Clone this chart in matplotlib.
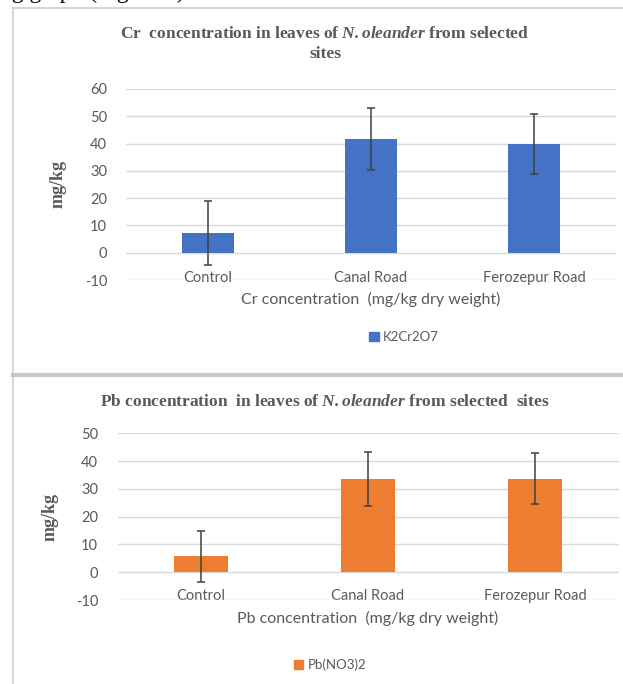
import matplotlib.pyplot as plt
from matplotlib.lines import Line2D
from matplotlib.patches import Patch

plt.rcParams['mathtext.fontset'] = 'custom'
plt.rcParams['mathtext.bfit'] = 'Liberation Serif:italic:bold'
plt.rcParams['mathtext.it'] = 'Liberation Serif:italic'

sites = ['Control', 'Canal Road', 'Ferozepur Road']
cr_mean = [7.3, 41.6, 39.8]
cr_err = [11.8, 11.4, 11.0]
pb_mean = [5.8, 33.6, 33.7]
pb_err = [9.2, 9.6, 9.3]

gray = '#595959'
blue = '#4472C4'
orange = '#ED7D31'
W, H = 623, 684

fig = plt.figure(figsize=(W / 100, H / 100), dpi=100)

# bits of the page around the two chart panels
fig.text(0.0, 1 + 8 / H, 'ng graph (Figure 3)', fontsize=17, family='Liberation Serif',
         va='center', ha='left', color='black')
border = '#cfcfcf'
fig.add_artist(Line2D([13 / W, 13 / W], [0, 1 - 8 / H], color=border, lw=1.2))
fig.add_artist(Line2D([13 / W, 1], [1 - 8 / H, 1 - 8 / H], color=border, lw=1.2))
fig.add_artist(Line2D([13 / W, 1], [1 - 375 / H, 1 - 375 / H], color='#c8c8c8', lw=3))


def panel(rect, means, errs, color, ylim, ticks, title, title_y, title_x,
          xlabel, legend_label, legend_xy, ylabel_x, tick_pad, label_pad):
    ax = fig.add_axes(rect)
    ax.bar(range(len(sites)), means, width=0.32, color=color, zorder=3,
           yerr=errs, error_kw=dict(ecolor='#404040', elinewidth=1.1, capsize=3, capthick=1.1))
    ax.set_xlim(-0.5, len(sites) - 0.5)
    ax.set_ylim(*ylim)
    ax.set_yticks(ticks)
    ax.set_yticklabels([str(t) if t >= 0 else '-' + str(-t) for t in ticks])
    ax.grid(axis='y', color='#d9d9d9', lw=1, zorder=0)
    for s in ax.spines.values():
        s.set_visible(False)
    ax.set_xticks(range(len(sites)))
    ax.set_xticklabels(sites, family='Lato', fontsize=10.5, color=gray)
    ax.tick_params(axis='x', length=0, pad=tick_pad)
    ax.tick_params(axis='y', length=0, pad=14, labelsize=10.5, labelcolor=gray)
    for lab in ax.get_yticklabels():
        lab.set_family('Lato')
    ax.set_xlabel(xlabel, family='Lato', fontsize=11.5, color=gray, labelpad=label_pad)
    fig.text(ylabel_x, rect[1] + rect[3] / 2, 'mg/kg', rotation=90, ha='center', va='center',
             family='Liberation Serif', fontweight='bold', fontsize=13, color=gray)
    fig.text(title_x, title_y, title, ha='center', va='center', family='Liberation Serif',
             fontweight='bold', fontsize=12.5, color=gray, linespacing=1.3)
    ax.legend(handles=[Patch(color=color, label=legend_label)], loc='center',
              bbox_to_anchor=legend_xy, bbox_transform=fig.transFigure, frameon=False,
              handlelength=0.7, handleheight=0.7, handletextpad=0.3,
              prop=dict(family='Lato', size=9.5), labelcolor=gray)
    return ax


panel([126.5 / W, 1 - 280 / H, 489 / W, 191 / H], cr_mean, cr_err, blue,
      (-10, 60), list(range(-10, 61, 10)),
      'Cr  concentration in leaves of $\\mathbfit{N. oleander}$ from selected\nsites',
      1 - 44 / H, 325 / W,
      'Cr concentration  (mg/kg dry weight)', 'K2Cr2O7', (404 / W, 1 - 337 / H), 58 / W,
      -6.5, 5)

panel([117.5 / W, 1 - 600 / H, 501 / W, 166.7 / H], pb_mean, pb_err, orange,
      (-10, 50), list(range(-10, 51, 10)),
      'Pb concentration  in leaves of $\\mathbfit{N. oleander}$ from selected  sites',
      1 - 402 / H, 325 / W,
      'Pb concentration  (mg/kg dry weight)', 'Pb(NO3)2', (330 / W, 1 - 665 / H), 50 / W,
      -8, 6)

fig.savefig('out.png', dpi=100)
